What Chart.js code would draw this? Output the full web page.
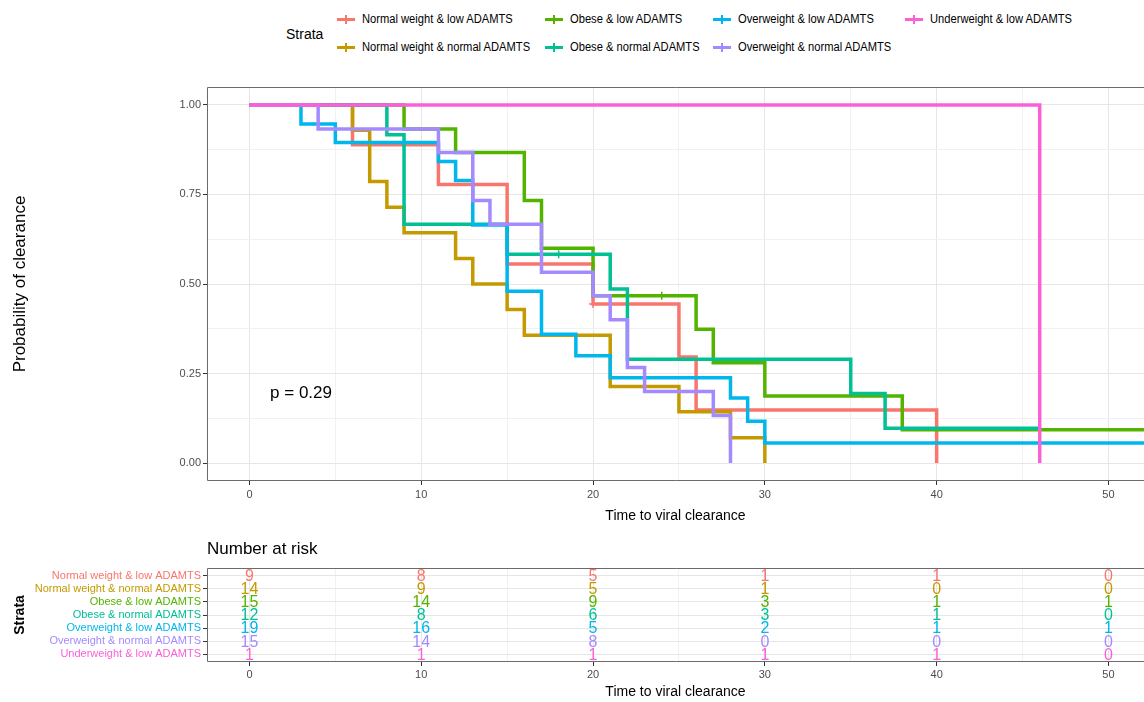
<!DOCTYPE html>
<html>
<head>
<meta charset="utf-8">
<script src="https://cdn.jsdelivr.net/npm/chart.js@4.4.0/dist/chart.umd.min.js"></script>
<style>
  body { margin: 0; background: #fff; width: 1144px; height: 702px; overflow: hidden; position: relative;
         font-family: "Liberation Sans", Arial, sans-serif; }
  #km { position: absolute; left: 0; top: 0; }
  #risk { position: absolute; left: 0; top: 530px; }
  #legend { position: absolute; left: 0; top: 0; width: 1144px; height: 62px; }
  .ltitle { position: absolute; left: 286px; top: 26px; font-size: 14px; line-height: 16px; color: #000; }
  .ltext { position: absolute; font-size: 12px; line-height: 14px; white-space: nowrap; color: #000;
           transform: scaleX(0.93); transform-origin: left center; }
  .lkey { position: absolute; width: 18px; height: 3px; }
  .ltick { position: absolute; width: 2px; height: 9px; }
</style>
</head>
<body>
<div id="legend"><div class="ltitle">Strata</div></div>
<canvas id="km" width="1144" height="530"></canvas>
<canvas id="risk" width="1144" height="172"></canvas>
<script>
// strata, in the order survminer uses
var strata = ['Normal weight & low ADAMTS', 'Normal weight & normal ADAMTS', 'Obese & low ADAMTS',
              'Obese & normal ADAMTS', 'Overweight & low ADAMTS', 'Overweight & normal ADAMTS',
              'Underweight & low ADAMTS'];
var colors = ['#F8766D', '#C49A00', '#53B400', '#00C094', '#00B6EB', '#A58AFF', '#FB61D7'];

// step times and survival after each step
var timesNwLow  = [0, 6, 11, 15, 20, 25, 26, 40];
var survNwLow   = [1, 0.889, 0.778, 0.556, 0.444, 0.296, 0.148, 0];
var timesNwNorm = [0, 6, 7, 8, 9, 12, 13, 15, 16, 21, 25, 28, 30];
var survNwNorm  = [1, 0.929, 0.786, 0.714, 0.643, 0.571, 0.5, 0.429, 0.357, 0.214, 0.143, 0.071, 0];
var timesObLow  = [0, 9, 12, 16, 17, 20, 26, 27, 30, 38, 53];
var survObLow   = [1, 0.933, 0.867, 0.733, 0.6, 0.467, 0.374, 0.28, 0.187, 0.093, 0.093];
var timesObNorm = [0, 8, 9, 15, 21, 22, 35, 37, 46];
var survObNorm  = [1, 0.917, 0.667, 0.583, 0.486, 0.29, 0.194, 0.097, 0.097];
var timesOwLow  = [0, 3, 5, 11, 12, 13, 15, 17, 19, 21, 28, 29, 30, 53];
var survOwLow   = [1, 0.947, 0.895, 0.842, 0.789, 0.665, 0.48, 0.36, 0.30, 0.238, 0.182, 0.117, 0.056, 0.056];
var timesOwNorm = [0, 4, 11, 13, 14, 17, 20, 21, 22, 23, 27, 28];
var survOwNorm  = [1, 0.933, 0.867, 0.733, 0.667, 0.533, 0.467, 0.4, 0.267, 0.2, 0.133, 0];
var timesUwLow  = [0, 46];
var survUwLow   = [1, 0];

var allTimes = [timesNwLow, timesNwNorm, timesObLow, timesObNorm, timesOwLow, timesOwNorm, timesUwLow];
var allSurv  = [survNwLow, survNwNorm, survObLow, survObNorm, survOwLow, survOwNorm, survUwLow];

// censor marks (+)
var censorTimes = [[20], [], [24], [18], [], [], []];

// number at risk table
var riskTimes = [0, 10, 20, 30, 40, 50];
var atRisk = [
  [9, 8, 5, 1, 1, 0],
  [14, 9, 5, 1, 0, 0],
  [15, 14, 9, 3, 1, 1],
  [12, 8, 6, 3, 1, 0],
  [19, 16, 5, 2, 1, 1],
  [15, 14, 8, 0, 0, 0],
  [1, 1, 1, 1, 1, 0]
];

var pLabel = 'p = 0.29';
var pPos = [1.2, 0.196];

var FONT = '"Liberation Sans", Arial, sans-serif';
Chart.defaults.font.family = FONT;

// survival value at time t (step function lookup)
function survAt(i, t) {
  var s = allSurv[i][0];
  for (var k = 0; k < allTimes[i].length; k++) {
    if (allTimes[i][k] <= t) s = allSurv[i][k];
  }
  return s;
}

// legend (html)
var legendCols = [337, 545, 713, 905];
var legendRows = [19, 47];
var legend = document.getElementById('legend');
strata.forEach(function (name, i) {
  var cx = legendCols[Math.floor(i / 2)], cy = legendRows[i % 2];
  var key = document.createElement('div');
  key.className = 'lkey';
  key.style.left = cx + 'px'; key.style.top = (cy - 1.5) + 'px'; key.style.background = colors[i];
  legend.appendChild(key);
  var tick = document.createElement('div');
  tick.className = 'ltick';
  tick.style.left = (cx + 8) + 'px'; tick.style.top = (cy - 4.5) + 'px'; tick.style.background = colors[i];
  legend.appendChild(tick);
  var txt = document.createElement('div');
  txt.className = 'ltext';
  txt.style.left = (cx + 25) + 'px'; txt.style.top = (cy - 7) + 'px';
  txt.textContent = name;
  legend.appendChild(txt);
});

function isMajor(v, step) {
  var r = v / step;
  return Math.abs(r - Math.round(r)) < 1e-6;
}

// x axis: fixed height, no extra side padding so the panel runs to the page edge
function fitX(h) {
  return function (s) { s.height = h; s.paddingLeft = 0; s.paddingRight = 0; };
}

var panelBorder = {
  id: 'panelBorder',
  afterDatasetsDraw: function (chart) {
    var ctx = chart.ctx, a = chart.chartArea;
    ctx.save();
    ctx.strokeStyle = '#6b6b6b';
    ctx.lineWidth = 1;
    ctx.beginPath();
    ctx.moveTo(a.right + 2, a.top + 0.5);
    ctx.lineTo(a.left + 0.5, a.top + 0.5);
    ctx.lineTo(a.left + 0.5, a.bottom - 0.5);
    ctx.lineTo(a.right + 2, a.bottom - 0.5);
    ctx.stroke();
    ctx.restore();
  }
};

var pValue = {
  id: 'pValue',
  afterDatasetsDraw: function (chart) {
    var ctx = chart.ctx;
    ctx.save();
    ctx.fillStyle = '#000';
    ctx.font = '17px ' + FONT;
    ctx.textAlign = 'left';
    ctx.textBaseline = 'middle';
    ctx.fillText(pLabel, chart.scales.x.getPixelForValue(pPos[0]), chart.scales.y.getPixelForValue(pPos[1]));
    ctx.restore();
  }
};

var datasets = [];
strata.forEach(function (name, i) {
  datasets.push({
    type: 'line',
    label: name,
    data: allTimes[i].map(function (t, k) { return { x: t, y: allSurv[i][k] }; }),
    borderColor: colors[i],
    borderWidth: 3.5,
    stepped: true,
    pointRadius: 0,
    fill: false,
    order: 10 - i
  });
});
strata.forEach(function (name, i) {
  if (!censorTimes[i].length) return;
  datasets.push({
    type: 'scatter',
    label: name + ' censored',
    data: censorTimes[i].map(function (t) { return { x: t, y: survAt(i, t) }; }),
    borderColor: colors[i],
    borderWidth: 1.5,
    pointStyle: 'cross',
    pointRadius: 4,
    showLine: false,
    order: 0
  });
});

var gridMajor = '#e6e6e6', gridMinor = '#f1f1f1', tickDark = '#333333', tickText = '#4d4d4d';

new Chart(document.getElementById('km'), {
  type: 'line',
  data: { datasets: datasets },
  options: {
    responsive: false,
    animation: false,
    layout: { autoPadding: false, padding: { top: 87, left: 0, right: 0, bottom: 0 } },
    plugins: { legend: { display: false }, tooltip: { enabled: false } },
    scales: {
      x: {
        type: 'linear', min: -2.47, max: 52.07,
        afterFit: fitX(49),
        border: { display: false },
        grid: {
          color: function (c) { return isMajor(c.tick.value, 10) ? gridMajor : gridMinor; },
          tickColor: function (c) { return isMajor(c.tick.value, 10) ? tickDark : 'rgba(0,0,0,0)'; },
          tickLength: 4
        },
        ticks: {
          stepSize: 5, includeBounds: false, autoSkip: false, maxRotation: 0, padding: 3,
          color: tickText, font: { size: 11 },
          callback: function (v) { return isMajor(v, 10) ? String(v) : ''; }
        },
        title: { display: true, text: 'Time to viral clearance', color: '#000', font: { size: 14 },
                 padding: { top: 0, bottom: 5 } }
      },
      y: {
        type: 'linear', min: -0.05, max: 1.05,
        afterFit: function (s) { s.width = 207; },
        border: { display: false },
        grid: {
          color: function (c) { return isMajor(c.tick.value, 0.25) ? gridMajor : gridMinor; },
          tickColor: function (c) { return isMajor(c.tick.value, 0.25) ? tickDark : 'rgba(0,0,0,0)'; },
          tickLength: 4
        },
        ticks: {
          stepSize: 0.125, includeBounds: false, autoSkip: false, padding: 2,
          color: tickText, font: { size: 11 },
          callback: function (v) { return isMajor(v, 0.25) ? v.toFixed(2) : ''; }
        },
        title: { display: true, text: 'Probability of clearance', color: '#000', font: { size: 17 },
                 padding: { top: 10, bottom: 0 } }
      }
    }
  },
  plugins: [panelBorder, pValue]
});

// risk table
var riskNumbers = {
  id: 'riskNumbers',
  afterDatasetsDraw: function (chart) {
    var ctx = chart.ctx, a = chart.chartArea;
    ctx.save();
    ctx.textAlign = 'center';
    ctx.textBaseline = 'middle';
    ctx.font = '16px ' + FONT;
    chart.data.datasets.forEach(function (ds, i) {
      var meta = chart.getDatasetMeta(i);
      meta.data.forEach(function (pt, j) {
        ctx.fillStyle = colors[i];
        ctx.fillText(String(atRisk[i][j]), pt.x, pt.y + 1);
      });
    });
    ctx.fillStyle = '#000';
    ctx.textAlign = 'left';
    ctx.font = '17px ' + FONT;
    ctx.fillText('Number at risk', a.left, a.top - 19);
    ctx.restore();
  }
};

new Chart(document.getElementById('risk'), {
  type: 'scatter',
  data: {
    datasets: strata.map(function (name, i) {
      return {
        label: name,
        data: riskTimes.map(function (t) { return { x: t, y: i + 1 }; }),
        pointRadius: 0
      };
    })
  },
  options: {
    responsive: false,
    animation: false,
    layout: { autoPadding: false, padding: { top: 38, left: 0, right: 0, bottom: 0 } },
    plugins: { legend: { display: false }, tooltip: { enabled: false } },
    scales: {
      x: {
        type: 'linear', min: -2.47, max: 52.07,
        afterFit: fitX(40),
        border: { display: false },
        grid: {
          color: function (c) { return isMajor(c.tick.value, 10) ? gridMajor : gridMinor; },
          tickColor: function (c) { return isMajor(c.tick.value, 10) ? tickDark : 'rgba(0,0,0,0)'; },
          tickLength: 4
        },
        ticks: {
          stepSize: 5, includeBounds: false, autoSkip: false, maxRotation: 0, padding: 2,
          color: tickText, font: { size: 11 },
          callback: function (v) { return isMajor(v, 10) ? String(v) : ''; }
        },
        title: { display: true, text: 'Time to viral clearance', color: '#000', font: { size: 14 },
                 padding: { top: 0, bottom: 1 } }
      },
      y: {
        type: 'linear', min: 0.4, max: 7.6, reverse: true,
        afterFit: function (s) { s.width = 207; },
        border: { display: false },
        grid: { color: gridMajor, tickColor: tickDark, tickLength: 4 },
        ticks: {
          stepSize: 1, includeBounds: false, autoSkip: false, padding: 2,
          font: { size: 11 },
          color: function (c) { return colors[Math.round(c.tick.value) - 1]; },
          callback: function (v) { return strata[v - 1] || ''; }
        },
        title: { display: true, text: 'Strata', color: '#000', font: { size: 14, weight: 'bold' },
                 padding: { top: 11.6, bottom: 0 } }
      }
    }
  },
  plugins: [panelBorder, riskNumbers]
});
</script>
</body>
</html>
